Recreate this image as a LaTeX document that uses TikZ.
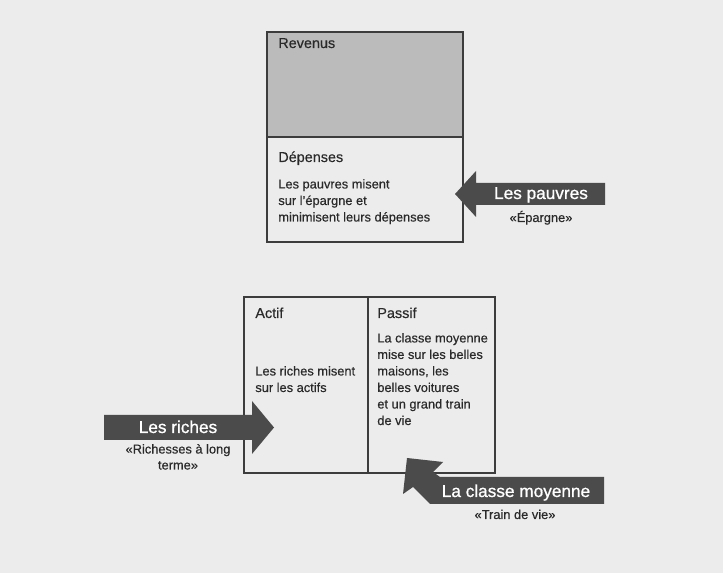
\documentclass[tikz,border=0pt]{standalone}
\usepackage{fontspec}
\setmainfont{Liberation Sans}[UprightFeatures={FakeBold=0.4}]
\newfontfamily\epaisse{Liberation Sans}[UprightFeatures={FakeBold=0.9}]
\usepackage{tikz}
\usetikzlibrary{calc}
\definecolor{fond}{HTML}{ECECEC}
\definecolor{trait}{HTML}{3C3C3C}
\definecolor{sombre}{HTML}{4B4B4B}
\definecolor{revenu}{HTML}{BBBBBB}
\definecolor{texte}{HTML}{2A2A2A}

\begin{document}
\begin{tikzpicture}[x=0.02cm, y=-0.02cm,
  titre/.style={anchor=base west, inner sep=0pt, text=texte, font=\fontsize{8.2}{10}\selectfont},
  corps/.style={anchor=base west, inner sep=0pt, align=left, text=texte, font=\fontsize{7.3}{9.4}\selectfont},
  etiq/.style={anchor=base, inner sep=0pt, text=white, font=\epaisse\fontsize{9.8}{11}\selectfont},
  sous/.style={anchor=base, inner sep=0pt, align=center, text=texte, font=\fontsize{7.3}{9.1}\selectfont},
  boite/.style={draw=trait, line width=1.1pt},
  pleine/.style={fill=sombre}]
  \fill[fond] (0,0) rectangle (723,573);
  \useasboundingbox (0,0) rectangle (723,573);

  % budget des pauvres
  \coordinate (H1) at (267, 32);
  \coordinate (H2) at (463, 137);
  \coordinate (H3) at (463, 242);
  \fill[revenu] (H1) rectangle (H2);
  \draw[boite] (H1) rectangle (H3);
  \draw[boite] (H1 |- H2) -- (H2);

  \node[titre] (revenus) at (278, 48) {Revenus};
  \node[titre] (depenses) at (278, 162) {Dépenses};
  % ancre = ligne de base de la derniere ligne
  \node[corps] (txtpauvres) at (278, 221.5) {Les pauvres misent\\sur l’épargne et\\minimisent leurs dépenses};

  % bilan actif / passif
  \coordinate (B1) at (244, 297);
  \coordinate (B2) at (495, 473);
  \coordinate (M1) at (368, 297);
  \coordinate (M2) at (368, 473);
  \draw[boite] (B1) rectangle (B2);
  \draw[boite] (M1) -- (M2);

  \node[titre] (actif) at (255, 318) {Actif};
  \node[titre] (passif) at (377, 318) {Passif};
  \node[corps] (txtriches) at (255, 392) {Les riches misent\\sur les actifs};
  \node[corps] (txtmoyens) at (377, 425) {La classe moyenne\\mise sur les belles\\maisons, les\\belles voitures\\et un grand train\\de vie};

  % fleches
  \fill[pleine] (455,194) -- (476,171) -- (476,183) -- (605,183) -- (605,205)
    -- (476,205) -- (476,217) -- cycle;
  \fill[pleine] (104,415) -- (252,415) -- (252,401) -- (274,427.5) -- (252,454)
    -- (252,440) -- (104,440) -- cycle;
  \fill[pleine] (407,458) -- (443,462) -- (433,472) -- (440,477) -- (604,477)
    -- (604,504) -- (430,504) -- (413,487) -- (403,494) -- cycle;

  \node[etiq] (pauvres) at (541, 199) {Les pauvres};
  \node[sous] (epargne) at (541, 222) {«Épargne»};
  \node[etiq] (riches) at (178, 433) {Les riches};
  \node[sous] (richesses) at (178, 469.5) {«Richesses à long\\terme»};
  \node[etiq] (moyenne) at (516, 497) {La classe moyenne};
  \node[sous] (train) at (515, 519) {«Train de vie»};
\end{tikzpicture}
\end{document}
